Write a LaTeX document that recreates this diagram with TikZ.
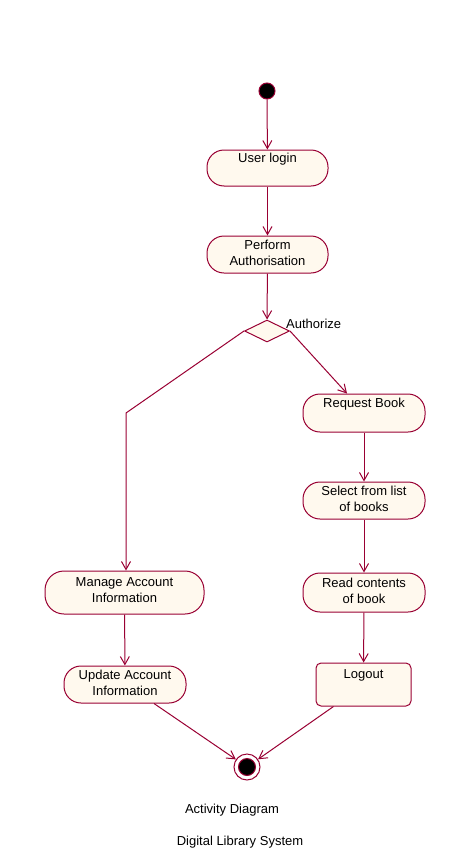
\documentclass[tikz,border=0pt]{standalone}
\usepackage{fontspec}
\setmainfont{Liberation Sans}
\usetikzlibrary{arrows.meta,shapes.geometric}
\definecolor{umlline}{HTML}{990033}
\definecolor{umlfill}{HTML}{FFF9EE}
\tikzset{
  act/.style={draw=umlline, fill=umlfill, line width=1pt, rounded corners=17pt,
    align=center, inner sep=0pt, text depth=4pt, font=\fontsize{13}{16}\selectfont},
  logbox/.style={draw=umlline, fill=umlfill, line width=1pt, rounded corners=5pt,
    align=center, inner sep=0pt, text depth=4pt, font=\fontsize{13}{16}\selectfont},
  flow/.style={draw=umlline, line width=1pt, -{Straight Barb[length=8pt,width=9pt]}},
  txt/.style={font=\fontsize{13}{16}\selectfont, inner sep=0pt},
}
\begin{document}
\begin{tikzpicture}[x=1pt,y=-1pt]
\useasboundingbox (0,0) rectangle (463,862);
\node[circle, fill=black, draw=umlline, line width=1pt, minimum size=16pt, inner sep=0pt] (start) at (267,91) {};
\node[act, minimum width=121pt, minimum height=36pt] (login) at (267.5,168) {User login\\\mbox{}};
\node[act, minimum width=121pt, minimum height=37pt] (auth) at (267.5,254.5) {Perform\\Authorisation};
\node[diamond, draw=umlline, fill=umlfill, line width=1pt, minimum width=45pt, minimum height=22pt, inner sep=0pt] (dec) at (267,331) {};
\node[txt, anchor=west] (authz) at (286,324) {Authorize};
\node[act, minimum width=122pt, minimum height=38pt] (req) at (364,413) {Request Book\\\mbox{}};
\node[act, minimum width=122pt, minimum height=37pt] (sel) at (364,500.5) {Select from list\\of books};
\node[act, minimum width=122pt, minimum height=39pt] (read) at (364,592.5) {Read contents\\of book};
\node[logbox, minimum width=95pt, minimum height=43pt] (logout) at (363.5,684.5) {Logout\\\mbox{}};
\node[act, minimum width=159pt, minimum height=43pt, rounded corners=19pt] (manage) at (124.5,592.5) {Manage Account\\Information};
\node[act, minimum width=122pt, minimum height=37pt] (update) at (125,684.5) {Update Account\\Information};
\node[circle, draw=umlline, fill=white, line width=1pt, minimum size=26pt, inner sep=0pt] (end) at (247,767) {};
\node[circle, fill=black, draw=umlline, line width=1pt, minimum size=17pt, inner sep=0pt] (endin) at (247,767) {};
\coordinate (bend) at (126,413);
\draw[flow] (start) -- (login);
\draw[flow] (login) -- (auth);
\draw[flow] (auth) -- (dec);
\draw[flow] (dec.west) -- (bend) -- ([xshift=1.5pt]manage.north);
\draw[flow] (dec.east) -- ([xshift=-17pt]req.north);
\draw[flow] (req) -- (sel);
\draw[flow] (sel) -- (read);
\draw[flow] (read) -- (logout);
\draw[flow] (manage) -- (update);
\draw[flow] ([xshift=29pt]update.south) -- (end);
\draw[flow] ([xshift=-30pt]logout.south) -- (end);
\node[txt] (cap1) at (232,810) {Activity Diagram};
\node[txt] (cap2) at (240,842) {Digital Library System};
\end{tikzpicture}
\end{document}
